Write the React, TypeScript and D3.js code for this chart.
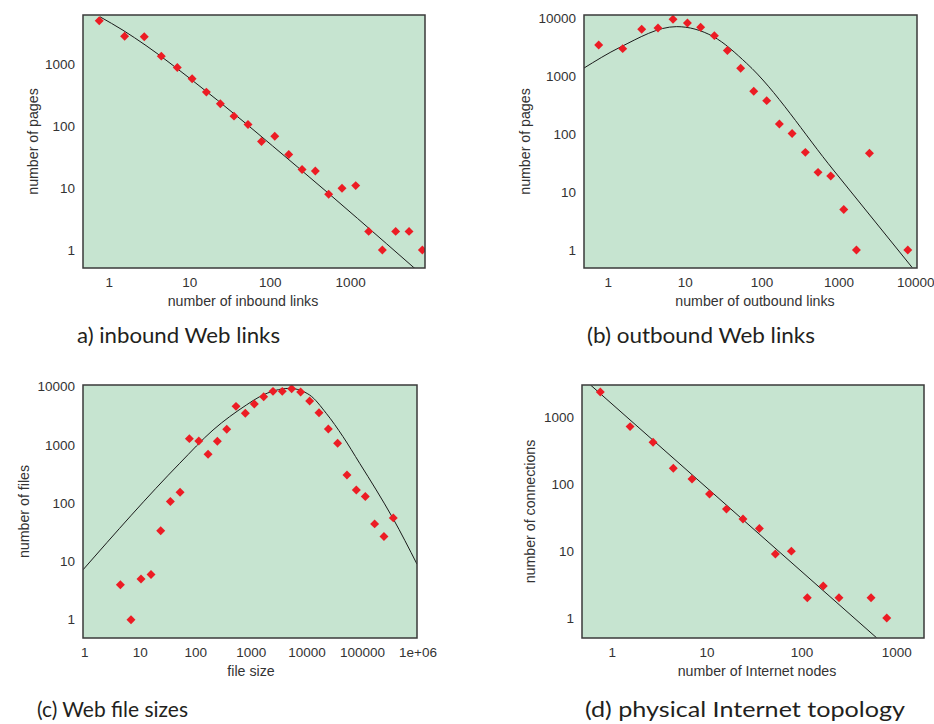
import * as d3 from 'd3'

// ---- data (log-log plots) ----

// a) inbound Web links
const inboundX = [0.75, 1.55, 2.72, 4.43, 7.0, 10.7, 16.1, 24, 35.5, 53, 78, 114, 170, 249, 364, 533, 781, 1156, 1676, 2478, 3630, 5320, 7790]
const inboundY = [5070, 2865, 2795, 1362, 893, 586, 357, 231, 146, 107, 57, 69, 35, 20, 19, 8, 10, 11, 2, 1, 2, 2, 1]
const inboundFitX = [0.766, 1.48, 2.86, 10.07, 235, 6310]
const inboundFitY = [5890, 3570, 2020, 592, 20.3, 0.5]

// (b) outbound Web links
const outboundX = [0.75, 1.54, 2.72, 4.43, 6.95, 10.7, 15.9, 24, 35.4, 52.7, 78, 115, 168, 246, 366, 535, 783, 1156, 1690, 2495, 7870]
const outboundY = [3465, 2995, 6460, 6810, 9610, 8300, 7000, 5020, 2770, 1370, 549, 379, 150, 103, 48.5, 21.9, 19, 5, 1, 46.7, 1]
const outboundFitX = [0.477, 1.42, 7.75, 23.3, 63, 848, 8960]
const outboundFitY = [1370, 3160, 7180, 4820, 1671, 24, 0.5]

// (c) Web file sizes
const fileX = [4.38, 6.8, 10.3, 15.6, 23.3, 34.8, 52, 76.5, 113, 166, 244, 360, 529, 778, 1130, 1665, 2450, 3600, 5310, 7710, 11200, 16500, 24300, 35700, 52600, 77500, 112500, 165600, 243800, 359000]
const fileY = [4, 1, 5, 6, 33.6, 107, 154, 1284, 1171, 692, 1156, 1856, 4600, 3490, 5040, 6740, 8320, 8320, 9240, 8110, 5680, 3580, 1880, 1068, 306, 169, 130, 44.2, 26.8, 56]
const fileFitX = [0.93, 51.3, 204, 811, 1410, 4890, 11200, 22300, 44600, 89000, 177000, 354000, 959000]
const fileFitY = [7.2, 485, 1807, 4850, 6740, 9360, 7200, 3490, 1390, 485, 169, 55, 9]

// (d) physical Internet topology
const nodesX = [0.747, 1.54, 2.69, 4.4, 6.93, 10.6, 16, 23.9, 35.6, 52.5, 77.4, 114, 168, 246, 536, 785]
const nodesY = [2416, 733, 427, 175, 120, 72, 42.6, 30.2, 21.9, 9.05, 10, 2, 3, 2, 2, 1]
const nodesFitX = [0.59, 615]
const nodesFitY = [3075, 0.502]

const ticks4 = [1, 10, 100, 1000]
const ticks5 = [1, 10, 100, 1000, 10000]
const ticks7 = [1, 10, 100, 1000, 10000, 100000, 1000000]
const fileTickLabels = ['1', '10', '100', '1000', '10000', '100000', '1e+06']

const BG = '#c6e4d0'
const RED = '#ec1c24'
const AXIS_FONT = '"Liberation Sans", Arial, sans-serif'
const CAPTION_FONT = 'Lato, "Open Sans", sans-serif'

type PanelProps = {
  id: string
  box: { x0: number; x1: number; y0: number; y1: number }
  xDomain: [number, number]
  yDomain: [number, number]
  xTicks: number[]
  xTickLabels?: string[]
  yTicks: number[]
  xs: number[]
  ys: number[]
  fitX: number[]
  fitY: number[]
  xLabel: string
  xLabelX: number
  yLabel: string
  yLabelX: number
  caption: string
  captionX: number
  captionY: number
  captionWidth: number
}

function Panel(p: PanelProps) {
  const { box } = p
  const x = d3.scaleLog().domain(p.xDomain).range([box.x0, box.x1])
  const y = d3.scaleLog().domain(p.yDomain).range([box.y1, box.y0])
  const fit = p.fitX.map((v, i) => [x(v), y(p.fitY[i])] as [number, number])
  const line = d3.line().curve(d3.curveMonotoneX)
  const diamond = d3.symbol(d3.symbolSquare, 40)()
  const yMid = (box.y0 + box.y1) / 2

  return (
    <g>
      <defs>
        <clipPath id={`clip-${p.id}`}>
          <rect x={box.x0} y={box.y0} width={box.x1 - box.x0} height={box.y1 - box.y0} />
        </clipPath>
      </defs>
      <rect x={box.x0} y={box.y0} width={box.x1 - box.x0} height={box.y1 - box.y0} fill={BG} />

      <g clipPath={`url(#clip-${p.id})`}>
        <path d={line(fit) ?? ''} fill="none" stroke="#1a1a1a" strokeWidth={1} />
        {p.xs.map((v, i) => (
          <path key={i} d={diamond ?? ''} fill={RED}
            transform={`translate(${x(v)},${y(p.ys[i])}) rotate(45)`} />
        ))}
      </g>

      <rect x={box.x0} y={box.y0} width={box.x1 - box.x0} height={box.y1 - box.y0}
        fill="none" stroke="#3a3a3a" strokeWidth={1.5} />

      {/* y tick labels */}
      {p.yTicks.map(t => (
        <text key={t} x={box.x0 - 8} y={y(t)} dy="0.35em" textAnchor="end"
          fontFamily={AXIS_FONT} fontSize={13.5} fill="#333">{t}</text>
      ))}

      {/* x tick labels */}
      {p.xTicks.map((t, i) => (
        <text key={t} x={x(t)} y={box.y1 + 19} textAnchor="middle"
          fontFamily={AXIS_FONT} fontSize={13.5} fill="#333">
          {p.xTickLabels ? p.xTickLabels[i] : t}
        </text>
      ))}

      <text x={p.xLabelX} y={box.y1 + 38} textAnchor="middle"
        fontFamily={AXIS_FONT} fontSize={14.2} fill="#333">{p.xLabel}</text>
      <text transform={`translate(${p.yLabelX},${yMid}) rotate(-90)`} dy="0.35em" textAnchor="middle"
        fontFamily={AXIS_FONT} fontSize={14.2} fill="#333">{p.yLabel}</text>

      <text x={p.captionX} y={p.captionY} fontFamily={CAPTION_FONT} fontSize={21} fill="#231f20"
        textLength={p.captionWidth} lengthAdjust="spacingAndGlyphs">{p.caption}</text>
    </g>
  )
}

export default function App() {
  return (
    <div style={{ position: 'absolute', left: 0, top: 0 }}>
      <svg width={934} height={724} style={{ display: 'block', background: '#fff' }}>
        <Panel id="a" box={{ x0: 83, x1: 425, y0: 15, y1: 268 }}
          xDomain={[0.471, 8400]} yDomain={[0.512, 6300]}
          xTicks={ticks4} yTicks={ticks4}
          xs={inboundX} ys={inboundY} fitX={inboundFitX} fitY={inboundFitY}
          xLabel="number of inbound links" xLabelX={243}
          yLabel="number of pages" yLabelX={33}
          caption="a) inbound Web links" captionX={77} captionY={343} captionWidth={203} />
        <Panel id="b" box={{ x0: 584, x1: 917, y0: 15, y1: 268 }}
          xDomain={[0.483, 10370]} yDomain={[0.489, 11400]}
          xTicks={ticks5} yTicks={ticks5}
          xs={outboundX} ys={outboundY} fitX={outboundFitX} fitY={outboundFitY}
          xLabel="number of outbound links" xLabelX={755}
          yLabel="number of pages" yLabelX={525}
          caption="(b) outbound Web links" captionX={587} captionY={343} captionWidth={228} />
        <Panel id="c" box={{ x0: 83, x1: 417, y0: 385, y1: 638 }}
          xDomain={[0.93, 959000]} yDomain={[0.486, 10700]}
          xTicks={ticks7} xTickLabels={fileTickLabels} yTicks={ticks5}
          xs={fileX} ys={fileY} fitX={fileFitX} fitY={fileFitY}
          xLabel="file size" xLabelX={251}
          yLabel="number of files" yLabelX={24}
          caption="(c) Web file sizes" captionX={37} captionY={717} captionWidth={151} />
        <Panel id="d" box={{ x0: 582, x1: 924, y0: 385, y1: 638 }}
          xDomain={[0.479, 1940]} yDomain={[0.5, 3080]}
          xTicks={ticks4} yTicks={ticks4}
          xs={nodesX} ys={nodesY} fitX={nodesFitX} fitY={nodesFitY}
          xLabel="number of Internet nodes" xLabelX={757}
          yLabel="number of connections" yLabelX={530}
          caption="(d) physical Internet topology" captionX={585} captionY={717} captionWidth={320} />
      </svg>
    </div>
  )
}
